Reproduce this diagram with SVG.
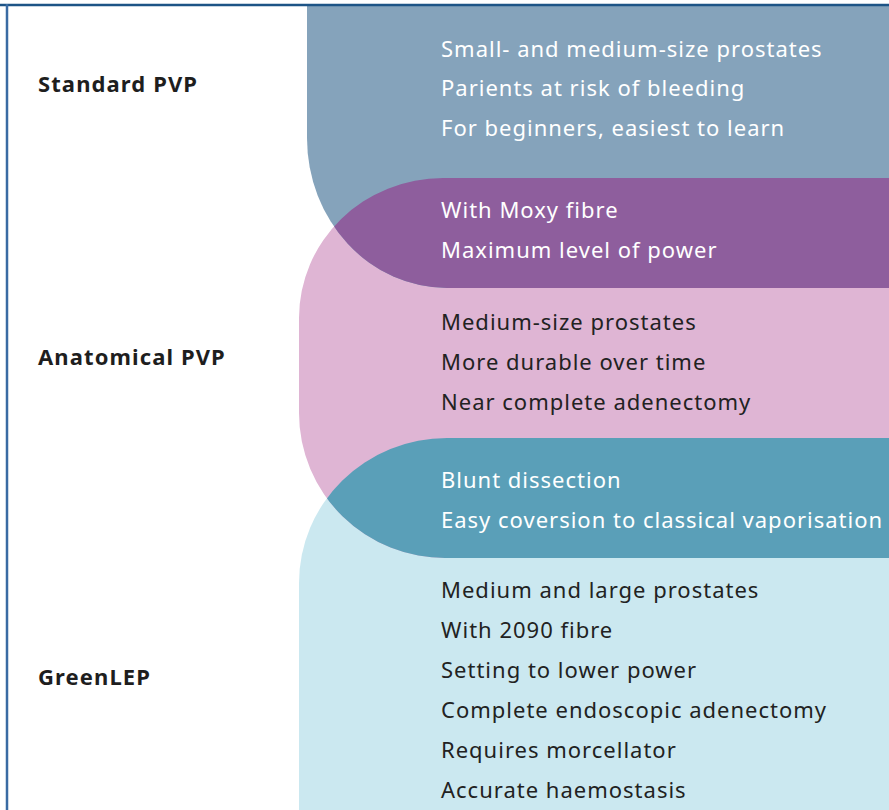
<svg xmlns="http://www.w3.org/2000/svg" width="889" height="810" viewBox="0 0 889 810">
<defs>
<style>
.t{font-family:"Noto Sans","Open Sans","DejaVu Sans",sans-serif;font-size:22px;letter-spacing:1px}
.w{fill:#ffffff}
.d{fill:#222222}
.lbl{font-family:"Noto Sans","Open Sans","DejaVu Sans",sans-serif;font-size:22px;font-weight:bold;letter-spacing:1.1px;fill:#1e1e1e}
</style>
<path id="pA" d="M307,6 H900 V288 H447 A140 150 0 0 1 307 138 Z"/>
<path id="pB" d="M443,178 H900 V558 H447 A146 145 0 0 1 299 413 V318 A144 140 0 0 1 443 178 Z"/>
<path id="pC" d="M447,438 H900 V820 H299 V583 A148 145 0 0 1 447 438 Z"/>
<clipPath id="cA"><use href="#pA"/></clipPath>
<clipPath id="cC"><use href="#pC"/></clipPath>
</defs>
<rect x="0" y="0" width="889" height="810" fill="#ffffff"/>
<g id="greenlep">
<use href="#pC" fill="#cbe8f0"/>
</g>
<g id="anatomical-pvp">
<use href="#pB" fill="#dfb5d4"/>
</g>
<g id="standard-pvp">
<use href="#pA" fill="#85a3bb"/>
</g>
<g id="overlap-standard-anatomical">
<use href="#pB" fill="#8e5e9d" clip-path="url(#cA)"/>
</g>
<g id="overlap-anatomical-greenlep">
<use href="#pB" fill="#5a9fb8" clip-path="url(#cC)"/>
</g>
<g id="frame" fill="none">
<line x1="0" y1="5" x2="889" y2="5" stroke="#1d5486" stroke-width="2.5"/>
<line x1="7" y1="4" x2="7" y2="810" stroke="#3a6ba3" stroke-width="2.5"/>
</g>
<g id="labels">
<text class="lbl" x="38" y="92">Standard PVP</text>
<text class="lbl" x="38" y="365">Anatomical PVP</text>
<text class="lbl" x="38" y="685">GreenLEP</text>
</g>
<g id="standard-text" class="t w">
<text x="441" y="57">Small- and medium-size prostates</text>
<text x="441" y="96">Parients at risk of bleeding</text>
<text x="441" y="136">For beginners, easiest to learn</text>
</g>
<g id="overlap1-text" class="t w">
<text x="441" y="218">With Moxy fibre</text>
<text x="441" y="258">Maximum level of power</text>
</g>
<g id="anatomical-text" class="t d">
<text x="441" y="330">Medium-size prostates</text>
<text x="441" y="370">More durable over time</text>
<text x="441" y="410">Near complete adenectomy</text>
</g>
<g id="overlap2-text" class="t w">
<text x="441" y="488">Blunt dissection</text>
<text x="441" y="528">Easy coversion to classical vaporisation</text>
</g>
<g id="greenlep-text" class="t d">
<text x="441" y="598">Medium and large prostates</text>
<text x="441" y="638">With 2090 fibre</text>
<text x="441" y="678">Setting to lower power</text>
<text x="441" y="718">Complete endoscopic adenectomy</text>
<text x="441" y="758">Requires morcellator</text>
<text x="441" y="798">Accurate haemostasis</text>
</g>
</svg>
